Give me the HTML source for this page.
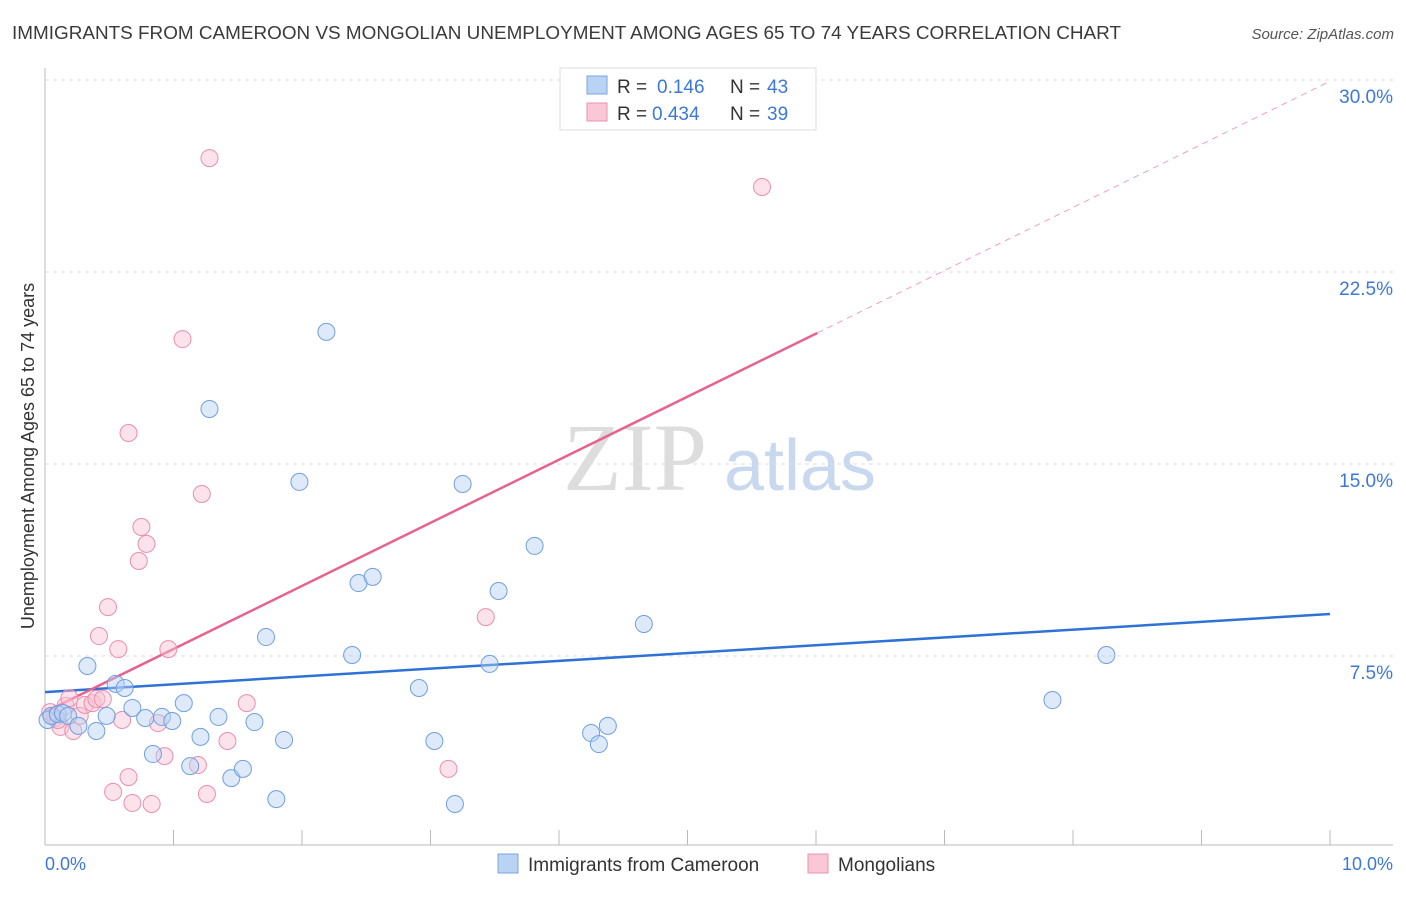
<!DOCTYPE html>
<html><head><meta charset="utf-8"><style>
body{margin:0;background:#fff;font-family:"Liberation Sans",sans-serif;}
svg text{font-family:"Liberation Sans",sans-serif;}
</style></head><body>
<svg id="chart" width="1406" height="892">
<text x="12" y="39" font-size="18" fill="#3a3a3a" textLength="1109" lengthAdjust="spacingAndGlyphs">IMMIGRANTS FROM CAMEROON VS MONGOLIAN UNEMPLOYMENT AMONG AGES 65 TO 74 YEARS CORRELATION CHART</text>
<text x="1394" y="39" font-size="15" fill="#555" font-style="italic" text-anchor="end">Source: ZipAtlas.com</text>
<g><text x="635" y="490" font-size="96" fill="#ddd" text-anchor="middle" font-family="Liberation Serif" style="font-family:'Liberation Serif',serif">ZIP</text><text x="800" y="490" font-size="72" fill="#c8d8ef" text-anchor="middle">atlas</text></g>
<g id="grid"></g>
<g id="axes"></g>
<text transform="translate(34,456) rotate(-90)" font-size="18" fill="#333" text-anchor="middle">Unemployment Among Ages 65 to 74 years</text>
<g id="lines"></g>
<g id="points"></g>
<g>
<rect x="560" y="68" width="256" height="62" fill="#fff" stroke="#ddd"/>
<rect x="587" y="76" width="20" height="18" fill="#b9d3f5" stroke="#7aa6e0"/>
<text x="617" y="93" font-size="19" fill="#333">R = </text><text x="657" y="93" font-size="19" fill="#3b78d8">0.146</text>
<text x="730" y="93" font-size="19" fill="#333">N = </text><text x="767" y="93" font-size="19" fill="#3b78d8">43</text>
<rect x="587" y="103" width="20" height="18" fill="#f9c7d6" stroke="#ec93ad"/>
<text x="617" y="120" font-size="19" fill="#333">R = </text><text x="652" y="120" font-size="19" fill="#3b78d8">0.434</text>
<text x="730" y="120" font-size="19" fill="#333">N = </text><text x="767" y="120" font-size="19" fill="#3b78d8">39</text>
</g>
<g>
<rect x="498" y="854" width="20" height="19" fill="#b9d3f5" stroke="#7aa6e0"/>
<text x="528" y="871" font-size="19" fill="#333">Immigrants from Cameroon</text>
<rect x="808" y="854" width="20" height="19" fill="#f9c7d6" stroke="#ec93ad"/>
<text x="838" y="871" font-size="19" fill="#333">Mongolians</text>
</g>
</svg>
<script>
const blueX=[0.02,0.05,0.10,0.14,0.18,0.26,0.33,0.40,0.48,0.55,0.62,0.68,0.78,0.84,0.91,0.99,1.08,1.13,1.21,1.28,1.35,1.45,1.54,1.63,1.72,1.80,1.86,1.98,2.19,2.39,2.44,2.55,2.91,3.03,3.19,3.25,3.46,3.53,3.81,4.25,4.31,4.38,4.66,7.84,8.26];
const blueY=[5.0,5.16,5.23,5.27,5.16,4.77,7.11,4.57,5.16,6.41,6.25,5.47,5.08,3.67,5.12,4.96,5.66,3.20,4.34,17.15,5.12,2.73,3.09,4.92,8.24,1.91,4.22,14.30,20.16,7.54,10.35,10.59,6.25,4.18,1.72,14.22,7.19,10.04,11.80,4.49,4.06,4.77,8.75,5.78,7.54];
const pinkX=[0.04,0.08,0.12,0.16,0.19,0.22,0.27,0.31,0.37,0.40,0.42,0.45,0.49,0.53,0.57,0.60,0.65,0.65,0.68,0.73,0.75,0.79,0.83,0.88,0.93,0.96,1.07,1.19,1.22,1.26,1.28,1.42,1.57,3.14,3.43,5.58,0.10];
const pinkY=[5.31,5.08,4.73,5.55,5.86,4.57,5.16,5.59,5.66,5.82,8.28,5.82,9.41,2.19,7.77,5.0,16.21,2.77,1.76,11.21,12.54,11.88,1.72,4.88,3.59,7.77,19.88,3.24,13.83,2.11,26.95,4.18,5.66,3.09,9.02,25.82,5.0];
const blueTrend=[6.09,9.14];
const pinkTrend=[5.31,29.95];
const yTicks=[7.5,15,22.5,30];
const yTickLabels=["7.5%","15.0%","22.5%","30.0%"];
const xTicks=[0,1,2,3,4,5,6,7,8,9,10];
const NS="http://www.w3.org/2000/svg";
const sx=v=>45+v*128.5, sy=v=>848-v*25.6;
function mk(tag,attrs,parent){const e=document.createElementNS(NS,tag);for(const k in attrs)e.setAttribute(k,attrs[k]);parent.appendChild(e);return e;}
const grid=document.getElementById('grid'),axes=document.getElementById('axes');
yTicks.forEach((t,i)=>{
 const l=mk('line',{x1:45,x2:1393,y1:sy(t),y2:sy(t),stroke:'#ddd','stroke-dasharray':'4,4'},grid);
 
 
 const tx=mk('text',{x:1393,y:sy(t)+23,'font-size':19,fill:'#3b78d8','text-anchor':'end'},axes);
 tx.textContent=yTickLabels[i];
 
 
});
mk('line',{x1:45,x2:45,y1:68,y2:845,stroke:'#bbb'},axes);
mk('line',{x1:45,x2:1393,y1:845,y2:845,stroke:'#bbb'},axes);
xTicks.forEach(t=>{const l=mk('line',{x1:sx(t),x2:sx(t),y1:830,y2:845,stroke:'#bbb'},axes);
 
 });
let a=mk('text',{x:45,y:870,'font-size':18,fill:'#3b78d8'},axes);a.textContent='0.0%';


a=mk('text',{x:1393,y:870,'font-size':18,fill:'#3b78d8','text-anchor':'end'},axes);a.textContent='10.0%';


const pts=document.getElementById('points');
function dots(X,Y,fill,stroke,name){X.forEach((x,i)=>{const c=mk('circle',{cx:sx(x),cy:sy(Y[i]),r:8.5,fill:fill,'fill-opacity':0.45,stroke:stroke,'stroke-width':1},pts);
 
 });}
dots(pinkX,pinkY,'#f9c0d2','#ec8dab','mongolians-point');
dots(blueX,blueY,'#b5d0f3','#6f9fe0','cameroon-point');
const ln=document.getElementById('lines');
let b=mk('line',{x1:sx(0),y1:sy(blueTrend[0]),x2:sx(10),y2:sy(blueTrend[1]),stroke:'#2f72d6','stroke-width':2.5},ln);


const pAt=x=>pinkTrend[0]+(pinkTrend[1]-pinkTrend[0])*x/10;
let p=mk('line',{x1:sx(0),y1:sy(pAt(0)),x2:sx(6.01),y2:sy(pAt(6.01)),stroke:'#e8628f','stroke-width':2.5},ln);


p=mk('line',{x1:sx(6.01),y1:sy(pAt(6.01)),x2:sx(10),y2:sy(pAt(10)),stroke:'#eea0b8','stroke-width':1,'stroke-dasharray':'6,5'},ln);


</script>
</body></html>
